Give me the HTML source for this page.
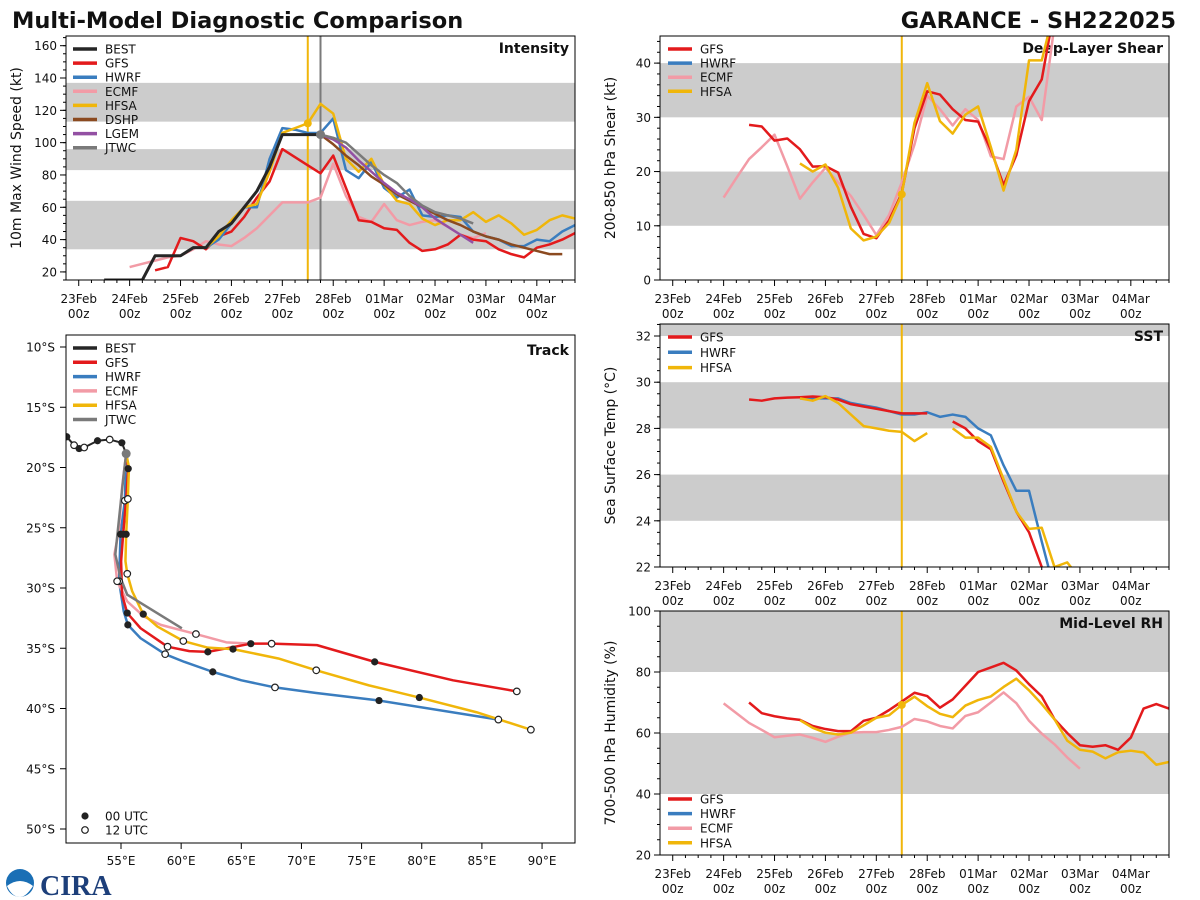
<!DOCTYPE html>
<html><head><meta charset="utf-8"><style>
html,body{margin:0;padding:0;background:#fff;}
svg{display:block;font-family:"DejaVu Sans","Liberation Sans",sans-serif;}
</style></head><body>
<svg id="root" width="1200" height="900" viewBox="0 0 1200 900" xmlns="http://www.w3.org/2000/svg">
<text x="12" y="28" font-size="22.5" font-weight="bold" fill="#111">Multi-Model Diagnostic Comparison</text>
<text x="1176" y="28" font-size="22.5" font-weight="bold" fill="#111" text-anchor="end">GARANCE - SH222025</text>
<g>
<circle cx="20" cy="883" r="14" fill="#1a6fb5"/>
<path d="M7 886 Q20 876 33 886 Q26 897 20 897 Q12 897 7 886Z" fill="#fff"/>
<text x="40" y="895" font-size="28" font-weight="bold" fill="#1d3f7a" font-family="Liberation Serif,serif">CIRA</text>
</g>
</svg>
<script>
// ---------- data (time in days since 23Feb 00z, 6-hourly) ----------
const dayLabels = ['23Feb','24Feb','25Feb','26Feb','27Feb','28Feb','01Mar','02Mar','03Mar','04Mar'];
const initTime = 4.5;
const bestEndTime = 4.75;
// Intensity (kt)
const intBestStart = 0.5;
const intBest = [15,15,15,15,30,30,30,35,35,45,50,60,70,85,105,105,105,105];
const intGfsStart = 1.5;
const intGfs = [21,23,41,39,34,42,45,54,66,76,96,91,86,81,92,72,52,51,47,46,38,33,34,37,43,40,39,34,31,29,35,37,40,44];
const intHwrfStart = 2.5;
const intHwrf = [35,40,50,60,60,90,109,108,106,106,115,83,78,88,72,66,71,55,54,55,54,45,42,40,36,36,40,39,45,49];
const intEcmfStart = 1.0;
const intEcmf = [23,25,27,29,30,34,39,37,36,41,47,55,63,63,63,66,87,67,54,51,62,52,49,51,52,48,43,41,44];
const intHfsaStart = 2.5;
const intHfsa = [35,42,52,60,62,82,106,109,112,124,118,90,82,90,74,64,62,53,49,52,52,57,51,55,50,43,46,52,55,53];
const intDshpStart = 4.75;
const intDshp = [105,99,92,86,79,74,68,64,60,56,52,49,45,42,40,37,35,33,31,31];
const intLgemStart = 4.75;
const intLgem = [105,102,97,89,82,75,69,65,60,53,48,43,38];
const intJtwcStart = 4.75;
const intJtwc = [105,103,100,93,86,80,75,67,61,57,55,53,50];
// Shear (kt)
const shrGfsStart = 1.5;
const shrGfs = [28.6,28.3,25.7,26.1,24.1,20.9,21.0,19.8,13.5,8.5,7.7,11,16,28,34.8,34.2,31.5,29.5,29.2,24,17.5,23,33,37,50];
const shrEcmfStart = 1.0;
const shrEcmf = [15.2,18.8,22.3,24.5,26.8,21,15,18,20.7,18,15.5,12,8.3,12,18,25,34,31.5,28.5,31.5,29.5,22.8,22.3,32,33.8,29.5,47];
const shrHfsaStart = 2.5;
const shrHfsa = [21.5,20,21.3,17,9.5,7.3,8,10.5,15.8,29,36.3,29.3,27,30.5,32,24.5,16.5,24,40.5,40.5,50];
// SST (C)
const sstGfsStart = 1.5;
const sstGfs = [29.25,29.2,29.3,29.33,29.35,29.38,29.35,29.25,29.05,28.95,28.85,28.75,28.65,28.65,28.65,null,28.3,28.0,27.45,27.1,25.7,24.4,23.5,22.0,20];
const sstHwrfStart = 2.5;
const sstHwrf = [29.3,29.3,29.3,29.3,29.1,29.0,28.9,28.75,28.6,28.6,28.7,28.5,28.6,28.5,28.0,27.7,26.4,25.3,25.3,23.1,21];
const sstHfsaStart = 2.5;
const sstHfsa = [29.3,29.2,29.4,29.1,28.6,28.1,28.0,27.9,27.85,27.45,27.8,null,28.0,27.6,27.6,27.2,25.8,24.4,23.65,23.7,22.0,22.2,21.5];
// RH (%)
const rhGfsStart = 1.5;
const rhGfs = [70,66.5,65.5,64.8,64.3,62.3,61.3,60.6,60.6,64,65,67.5,70.3,73.2,72.1,68.3,71,75.5,80,81.5,83,80.5,76,72,64.5,60,56,55.5,56,54.5,58.5,68,69.5,68];
const rhEcmfStart = 1.0;
const rhEcmf = [69.7,66.5,63.3,61,58.6,59.1,59.5,58.4,57.1,58.8,60.1,60.3,60.3,61,62,64.6,63.8,62.3,61.5,65.6,66.8,70,73.3,69.8,64,59.8,56.3,52,48.3];
const rhHfsaStart = 2.5;
const rhHfsa = [64.2,61.7,60.1,59.5,60.1,62.5,65,65.8,69.2,71.9,68.8,66.3,65.2,69,70.8,72,75.1,77.8,74,69.5,64.5,57.5,54.5,53.9,51.7,53.7,54.2,53.6,49.6,50.5];
// Tracks: lon, lat, marker (f=00UTC, o=12UTC, n=none)
const trkBestLon = [50.49,51.10,51.52,51.94,53.05,54.06,55.07,55.43];
const trkBestLat = [-17.45,-18.15,-18.43,-18.34,-17.78,-17.68,-17.95,-18.85];
const trkBestMk  = ['f','o','f','o','f','o','f','n'];
const trkGfsLon = [55.43,55.60,55.43,55.18,55.01,55.09,55.52,56.63,58.87,60.68,62.22,65.79,67.52,71.29,76.09,82.60,87.90];
const trkGfsLat = [-18.85,-20.10,-22.61,-25.54,-27.77,-30.56,-32.08,-33.34,-34.87,-35.24,-35.30,-34.62,-34.62,-34.74,-36.13,-37.66,-38.58];
const trkGfsMk  = ['n','f','n','f','n','n','f','n','o','n','f','f','o','n','f','n','o'];
const trkHwrfLon = [55.43,55.32,54.96,54.84,55.23,55.57,56.63,58.67,60.26,62.63,65.01,67.80,71.15,76.45,86.37];
const trkHwrfLat = [-18.85,-22.75,-25.54,-29.44,-31.95,-33.06,-34.17,-35.49,-36.13,-36.96,-37.66,-38.25,-38.70,-39.34,-40.92];
const trkHwrfMk  = ['n','o','f','o','n','f','n','o','n','f','n','o','n','f','o'];
const trkEcmfLon = [55.43,55.09,54.82,54.45,54.68,55.52,56.91,58.31,61.23,63.75,65.79];
const trkEcmfLat = [-18.85,-21.63,-25.25,-27.21,-29.44,-31.11,-32.37,-33.06,-33.82,-34.51,-34.62];
const trkEcmfMk  = ['n','n','n','n','o','n','n','n','o','n','n'];
const trkHfsaLon = [55.43,55.66,55.57,55.43,55.37,55.52,55.93,56.85,58.03,60.18,62.22,64.31,68.08,71.23,75.61,79.80,84.55,89.07];
const trkHfsaLat = [-18.85,-19.96,-22.61,-25.54,-27.77,-28.82,-30.27,-32.17,-33.20,-34.40,-34.95,-35.07,-35.85,-36.83,-38.08,-39.09,-40.31,-41.76];
const trkHfsaMk  = ['n','n','o','f','n','o','n','f','n','o','n','f','n','o','n','f','n','o'];
const trkJtwcLon = [55.43,55.23,54.82,54.53,54.96,55.52,60.06];
const trkJtwcLat = [-18.85,-20.51,-24.42,-27.21,-29.16,-30.56,-33.35];
const trkJtwcMk  = ['n','n','n','n','n','n','n'];

const C = {BEST:'#262626',GFS:'#e31a1c',HWRF:'#3a7dbf',ECMF:'#f29ba6',HFSA:'#f0b60a',DSHP:'#8b4a20',LGEM:'#9350a3',JTWC:'#7a7a7a'};
const NS='http://www.w3.org/2000/svg';
const root=document.getElementById('root');
function mk(tag,attrs,parent,name){
  const e=document.createElementNS(NS,tag);
  for(const k in attrs) e.setAttribute(k,attrs[k]);
  
  
  (parent||root).appendChild(e);
  return e;
}
function txt(s,attrs,parent,name){const e=mk('text',attrs,parent,name);e.textContent=s;return e;}

function timePanel(id,x0,x1,y0,y1,yd,bands,yticks,yminor,ylabel,title){
  const g=mk('g',{},root,id+'-panel');
  const X=t=>x0+(t+0.25)/10*(x1-x0);
  const Y=v=>y1-(v-yd[0])/(yd[1]-yd[0])*(y1-y0);
  const cp=mk('clipPath',{id:id+'-clip'},g,id+'-clip');
  mk('rect',{x:x0,y:y0,width:x1-x0,height:y1-y0},cp,id+'-clip-rect');
  bands.forEach(b=>{const ya=Y(Math.min(b[1],yd[1])),yb=Y(b[0]);
    mk('rect',{x:x0,y:ya,width:x1-x0,height:yb-ya,fill:'#cccccc'},g,id+'-shaded-band');});
  for(let t=0;t<=9.75;t+=0.25){const major=Math.abs(t-Math.round(t))<1e-6;
    mk('line',{x1:X(t),x2:X(t),y1:y1,y2:y1+(major?6:3),stroke:'#000','stroke-width':1},g,id+'-x-tick');}
  dayLabels.forEach((d,i)=>{
    txt(d,{x:X(i),y:y1+23,'font-size':12,'text-anchor':'middle',fill:'#111'},g,id+'-x-tick-label');
    txt('00z',{x:X(i),y:y1+38,'font-size':12,'text-anchor':'middle',fill:'#111'},g,id+'-x-tick-label');});
  for(let v=yd[0];v<=yd[1]+1e-6;v+=yminor){if(v<yd[0]-1e-6)continue;
    mk('line',{x1:x0-3,x2:x0,y1:Y(v),y2:Y(v),stroke:'#000','stroke-width':1},g,id+'-y-minor-tick');}
  yticks.forEach(v=>{mk('line',{x1:x0-6,x2:x0,y1:Y(v),y2:Y(v),stroke:'#000','stroke-width':1},g,id+'-y-tick');
    txt(String(v),{x:x0-9,y:Y(v)+4.5,'font-size':12,'text-anchor':'end',fill:'#111'},g,id+'-y-tick-label');});
  const cy=(y0+y1)/2;
  txt(ylabel,{x:0,y:0,'font-size':14,'text-anchor':'middle',fill:'#111',transform:`translate(${x0-45},${cy}) rotate(-90)`},g,id+'-y-axis-title');
  txt(title,{x:x1-6,y:y0+17,'font-size':14,'font-weight':'bold','text-anchor':'end',fill:'#111'},g,id+'-panel-title');
  const data=mk('g',{'clip-path':`url(#${id}-clip)`},g,id+'-plot-area');
  return {g,data,X,Y,x0,x1,y0,y1,frame(){mk('rect',{x:x0,y:y0,width:x1-x0,height:y1-y0,fill:'none',stroke:'#000','stroke-width':1},g,id+'-frame');}};
}
function series(P,start,vals,color,name,w){
  let segs=[],cur=[];
  vals.forEach((v,i)=>{if(v===null){if(cur.length)segs.push(cur);cur=[];}else cur.push([P.X(start+i*0.25),P.Y(v)]);});
  if(cur.length)segs.push(cur);
  segs.forEach(s=>mk('polyline',{points:s.map(p=>p.join(',')).join(' '),fill:'none',stroke:color,'stroke-width':w||2.5,'stroke-linejoin':'round'},P.data,name));
}
function valAt(start,vals,t){const i=Math.round((t-start)/0.25);return (i>=0&&i<vals.length)?vals[i]:null;}
function legend(P,names,x,y,dy,id){
  names.forEach((n,i)=>{mk('line',{x1:x,x2:x+24,y1:y+i*dy,y2:y+i*dy,stroke:C[n],'stroke-width':3.5},P.g,id+'-legend-swatch-'+n.toLowerCase());
    txt(n,{x:x+32,y:y+i*dy+4.5,'font-size':12,fill:'#111'},P.g,id+'-legend-label-'+n.toLowerCase());});
}
function vline(P,t,color,name){mk('line',{x1:P.X(t),x2:P.X(t),y1:P.y0,y2:P.y1,stroke:color,'stroke-width':2},P.data,name);}

// ---- Intensity ----
const PI=timePanel('intensity',66,575,36,280,[15,166],[[34,64],[83,96],[113,137]],[20,40,60,80,100,120,140,160],5,'10m Max Wind Speed (kt)','Intensity');
vline(PI,initTime,C.HFSA,'init-time-line');
vline(PI,bestEndTime,C.JTWC,'best-track-end-line');
series(PI,intEcmfStart,intEcmf,C.ECMF,'intensity-ecmf-line');
series(PI,intGfsStart,intGfs,C.GFS,'intensity-gfs-line');
series(PI,intHwrfStart,intHwrf,C.HWRF,'intensity-hwrf-line');
series(PI,intHfsaStart,intHfsa,C.HFSA,'intensity-hfsa-line');
series(PI,intDshpStart,intDshp,C.DSHP,'intensity-dshp-line');
series(PI,intLgemStart,intLgem,C.LGEM,'intensity-lgem-line');
series(PI,intJtwcStart,intJtwc,C.JTWC,'intensity-jtwc-line');
series(PI,intBestStart,intBest,C.BEST,'intensity-best-line',3);
mk('circle',{cx:PI.X(initTime),cy:PI.Y(valAt(intHfsaStart,intHfsa,initTime)),r:4,fill:C.HFSA},PI.data,'intensity-hfsa-init-dot');
mk('circle',{cx:PI.X(bestEndTime),cy:PI.Y(valAt(intJtwcStart,intJtwc,bestEndTime)),r:4.5,fill:C.JTWC},PI.data,'intensity-jtwc-init-dot');
PI.frame();
legend(PI,['BEST','GFS','HWRF','ECMF','HFSA','DSHP','LGEM','JTWC'],73,49,14.1,'intensity');

// ---- Shear ----
const PS=timePanel('shear',660,1169,36,280,[0,45],[[10,20],[30,40]],[0,10,20,30,40],2,'200-850 hPa Shear (kt)','Deep-Layer Shear');
vline(PS,initTime,C.HFSA,'shear-init-time-line');
series(PS,shrEcmfStart,shrEcmf,C.ECMF,'shear-ecmf-line');
series(PS,shrGfsStart,shrGfs,C.GFS,'shear-gfs-line');
series(PS,shrHfsaStart,shrHfsa,C.HFSA,'shear-hfsa-line');
mk('circle',{cx:PS.X(initTime),cy:PS.Y(valAt(shrHfsaStart,shrHfsa,initTime)),r:4,fill:C.HFSA},PS.data,'shear-init-dot');
PS.frame();
legend(PS,['GFS','HWRF','ECMF','HFSA'],668,49,14.1,'shear');

// ---- SST ----
const PT=timePanel('sst',660,1169,324,567,[22,32.52],[[24,26],[28,30],[32,33]],[22,24,26,28,30,32],0.5,'Sea Surface Temp (°C)','SST');
vline(PT,initTime,C.HFSA,'sst-init-time-line');
series(PT,sstHwrfStart,sstHwrf,C.HWRF,'sst-hwrf-line');
series(PT,sstGfsStart,sstGfs,C.GFS,'sst-gfs-line');
series(PT,sstHfsaStart,sstHfsa,C.HFSA,'sst-hfsa-line');
PT.frame();
legend(PT,['GFS','HWRF','HFSA'],668,337,15.3,'sst');

// ---- RH ----
const PR=timePanel('rh',660,1169,611,855,[20,100],[[40,60],[80,100]],[20,40,60,80,100],5,'700-500 hPa Humidity (%)','Mid-Level RH');
vline(PR,initTime,C.HFSA,'rh-init-time-line');
series(PR,rhEcmfStart,rhEcmf,C.ECMF,'rh-ecmf-line');
series(PR,rhGfsStart,rhGfs,C.GFS,'rh-gfs-line');
series(PR,rhHfsaStart,rhHfsa,C.HFSA,'rh-hfsa-line');
mk('circle',{cx:PR.X(initTime),cy:PR.Y(valAt(rhHfsaStart,rhHfsa,initTime)),r:4,fill:C.HFSA},PR.data,'rh-init-dot');
PR.frame();
legend(PR,['GFS','HWRF','ECMF','HFSA'],668,799,14.6,'rh');

// ---- Track ----
const tg=mk('g',{},root,'track-panel');
const TX0=66,TX1=575,TY0=335,TY1=843;
const LX=lon=>121+(lon-55)*12.03;
const LY=lat=>347+(-lat-10)*12.05;
const tcp=mk('clipPath',{id:'track-clip'},tg,'track-clip');
mk('rect',{x:TX0,y:TY0,width:TX1-TX0,height:TY1-TY0},tcp,'track-clip-rect');
const td=mk('g',{'clip-path':'url(#track-clip)'},tg,'track-map-area');
[55,60,65,70,75,80,85,90].forEach(l=>{mk('line',{x1:LX(l),x2:LX(l),y1:TY1,y2:TY1+6,stroke:'#000'},tg,'track-x-tick');
  txt(l+'°E',{x:LX(l),y:TY1+22,'font-size':12,'text-anchor':'middle',fill:'#111'},tg,'track-x-tick-label');});
[10,15,20,25,30,35,40,45,50].forEach(l=>{mk('line',{x1:TX0-6,x2:TX0,y1:LY(-l),y2:LY(-l),stroke:'#000'},tg,'track-y-tick');
  txt(l+'°S',{x:TX0-11,y:LY(-l)+4.5,'font-size':12,'text-anchor':'end',fill:'#111'},tg,'track-y-tick-label');});
function track(lon,lat,mkType,color,name,w){
  mk('polyline',{points:lon.map((v,i)=>LX(v)+','+LY(lat[i])).join(' '),fill:'none',stroke:color,'stroke-width':w||2.5,'stroke-linejoin':'round'},td,name);
}
function marks(lon,lat,mkType,name){
  lon.forEach((v,i)=>{if(mkType[i]==='f')mk('circle',{cx:LX(v),cy:LY(lat[i]),r:3.6,fill:'#222'},td,name+'-00utc-marker');
    else if(mkType[i]==='o')mk('circle',{cx:LX(v),cy:LY(lat[i]),r:3.3,fill:'#fff',stroke:'#222','stroke-width':1.2},td,name+'-12utc-marker');});
}
track(trkHwrfLon,trkHwrfLat,trkHwrfMk,C.HWRF,'track-hwrf-line');
track(trkEcmfLon,trkEcmfLat,trkEcmfMk,C.ECMF,'track-ecmf-line');
track(trkGfsLon,trkGfsLat,trkGfsMk,C.GFS,'track-gfs-line');
track(trkHfsaLon,trkHfsaLat,trkHfsaMk,C.HFSA,'track-hfsa-line');
track(trkJtwcLon,trkJtwcLat,trkJtwcMk,C.JTWC,'track-jtwc-line');
track(trkBestLon,trkBestLat,trkBestMk,C.BEST,'track-best-line',2);
marks(trkHwrfLon,trkHwrfLat,trkHwrfMk,'track-hwrf');
marks(trkEcmfLon,trkEcmfLat,trkEcmfMk,'track-ecmf');
marks(trkGfsLon,trkGfsLat,trkGfsMk,'track-gfs');
marks(trkHfsaLon,trkHfsaLat,trkHfsaMk,'track-hfsa');
marks(trkBestLon,trkBestLat,trkBestMk,'track-best');
mk('circle',{cx:LX(trkBestLon[7]),cy:LY(trkBestLat[7]),r:4.5,fill:C.JTWC},td,'track-init-dot');
mk('rect',{x:TX0,y:TY0,width:TX1-TX0,height:TY1-TY0,fill:'none',stroke:'#000'},tg,'track-frame');
txt('Track',{x:TX1-6,y:TY0+20,'font-size':14,'font-weight':'bold','text-anchor':'end',fill:'#111'},tg,'track-panel-title');
['BEST','GFS','HWRF','ECMF','HFSA','JTWC'].forEach((n,i)=>{const y=348+i*14.3;
  mk('line',{x1:73,x2:97,y1:y,y2:y,stroke:C[n],'stroke-width':3.5},tg,'track-legend-swatch-'+n.toLowerCase());
  txt(n,{x:105,y:y+4.5,'font-size':12,fill:'#111'},tg,'track-legend-label-'+n.toLowerCase());});
mk('circle',{cx:85,cy:816,r:3.6,fill:'#222'},tg,'legend-00utc-marker');
txt('00 UTC',{x:105,y:820.5,'font-size':12,fill:'#111'},tg,'legend-00utc-label');
mk('circle',{cx:85,cy:830,r:3.3,fill:'#fff',stroke:'#222','stroke-width':1.2},tg,'legend-12utc-marker');
txt('12 UTC',{x:105,y:834.5,'font-size':12,fill:'#111'},tg,'legend-12utc-label');
</script>
</body></html>
